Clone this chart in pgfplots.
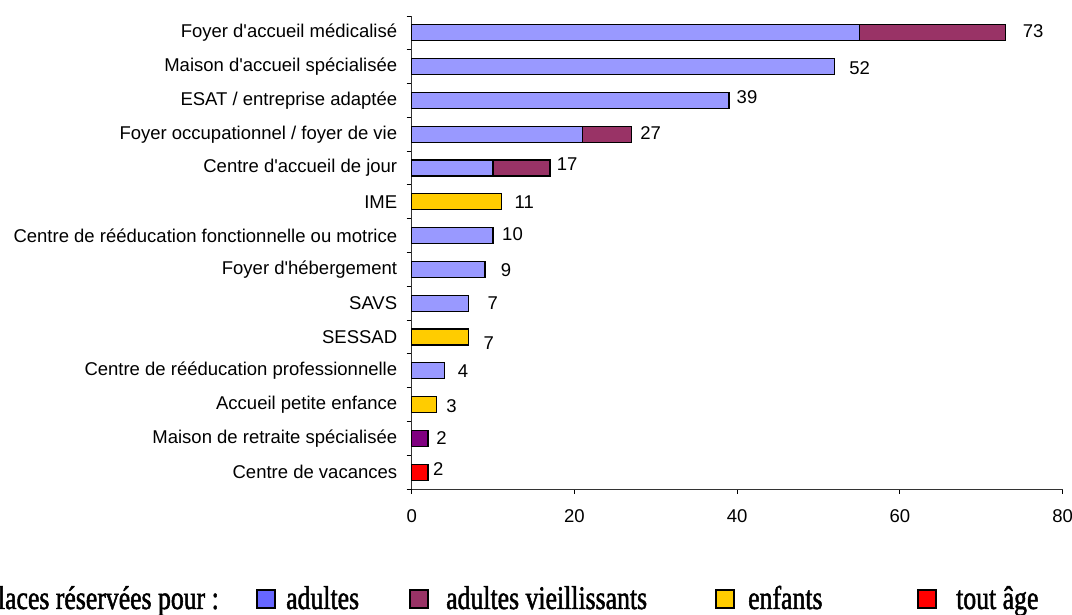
\documentclass[border=0pt]{standalone}
\usepackage{fontspec}
\setmainfont{Liberation Sans}
\newfontfamily\legfont[FakeStretch=0.78,FakeBold=1.5]{Liberation Serif}
\usepackage{pgfplots}
\usepackage{pgfplotstable}
\pgfplotsset{compat=1.18}
\definecolor{adu}{HTML}{9999FF}
\definecolor{adulegend}{HTML}{6666FF}
\definecolor{vie}{HTML}{993366}
\definecolor{enf}{HTML}{FFCC00}
\definecolor{tou}{HTML}{FF0000}
\definecolor{ret}{HTML}{800080}
\newcommand{\q}{\textquotesingle}
% bottom (0) to top (13)
\pgfplotstableread{
y adultes vieill enfants toutage retraite
0 0 0 0 2 0
1 0 0 0 0 2
2 0 0 3 0 0
3 4 0 0 0 0
4 0 0 7 0 0
5 7 0 0 0 0
6 9 0 0 0 0
7 10 0 0 0 0
8 0 0 11 0 0
9 10 7 0 0 0
10 21 6 0 0 0
11 39 0 0 0 0
12 52 0 0 0 0
13 55 18 0 0 0
}\datatab
% label positions (x, y) and text
\pgfplotstableread{
x y lab
2.6 0.09 2
3.0 1 2
4.23 1.95 3
5.64 3 4
8.8 3.81 7
9.3 5 7
10.93 5.97 9
11.1 7.03 10
12.63 8 11
17.81 9.12 17
28.08 10.05 27
39.92 11.09 39
53.77 11.95 52
75.07 13.06 73
}\labtab
\newcommand{\tfont}{\fontsize{18.5}{22}\selectfont}
\newcommand{\lfont}{\legfont\fontsize{33}{36}\selectfont}
\begin{document}
\begin{tikzpicture}[x=1pt,y=1pt]
\path[use as bounding box] (0,0) rectangle (1072,615);
\begin{axis}[
  at={(411.7pt,126pt)}, anchor=south west,
  scale only axis, width=651pt, height=473pt,
  xmin=0, xmax=80, ymin=-0.5, ymax=13.5,
  stack plots=x,
  axis x line=bottom, axis y line=left,
  axis line style={-, line width=0.9pt, black!80},
  xtick={0,20,...,80},
  ytick={0,...,13},
  yticklabels={Centre de vacances, Maison de retraite spécialisée, Accueil petite enfance, Centre de rééducation professionnelle, SESSAD, SAVS, Foyer d\q hébergement, Centre de rééducation fonctionnelle ou motrice, IME, Centre d\q accueil de jour, Foyer occupationnel / foyer de vie, ESAT / entreprise adaptée, Maison d\q accueil spécialisée, Foyer d\q accueil médicalisé},
  minor ytick={-0.5,0.5,...,13.5},
  tick align=outside, major tick length=5pt, minor tick length=5pt,
  major y tick style={draw=none},
  minor y tick style={black, line width=0.9pt},
  major x tick style={black, line width=0.9pt},
  tick label style={font=\tfont},
  yticklabel style={xshift=-6pt},
  xticklabel style={yshift=-12pt},
  /pgf/number format/assume math mode=true,
  clip=false,
]
\pgfplotsset{bars/.style={xbar, bar width=16pt, bar shift=0pt, draw=black, line width=1.2pt}}
\addplot[bars, fill=adu] table[x=adultes,y=y] {\datatab};
\addplot[bars, fill=vie] table[x=vieill,y=y] {\datatab};
\addplot[bars, fill=enf] table[x=enfants,y=y] {\datatab};
\addplot[bars, fill=tou] table[x=toutage,y=y] {\datatab};
\addplot[bars, fill=ret] table[x=retraite,y=y] {\datatab};
\addplot[stack plots=false, draw=none, mark=none,
  nodes near coords, point meta=explicit symbolic,
  every node near coord/.style={anchor=west, font=\tfont, inner sep=0pt}]
  table[x=x,y=y,meta=lab] {\labtab};
\end{axis}
% legend
\node[anchor=base east, font=\lfont, inner sep=0pt] at (219,6) {Places réservées pour :};
\node[draw=black, line width=2pt, fill=adulegend, minimum size=18pt, inner sep=0pt] at (265.5,15.5) {};
\node[anchor=base west, font=\lfont, inner sep=0pt] at (286,6) {adultes};
\node[draw=black, line width=2pt, fill=vie, minimum size=18pt, inner sep=0pt] at (418.5,15.5) {};
\node[anchor=base west, font=\lfont, inner sep=0pt] at (446,6) {adultes vieillissants};
\node[draw=black, line width=2pt, fill=enf, minimum size=18pt, inner sep=0pt] at (724.5,15.5) {};
\node[anchor=base west, font=\lfont, inner sep=0pt] at (748,6) {enfants};
\node[draw=black, line width=2pt, fill=tou, minimum size=18pt, inner sep=0pt] at (927,15.5) {};
\node[anchor=base west, font=\lfont, inner sep=0pt] at (956,6) {tout âge};
\end{tikzpicture}
\end{document}
